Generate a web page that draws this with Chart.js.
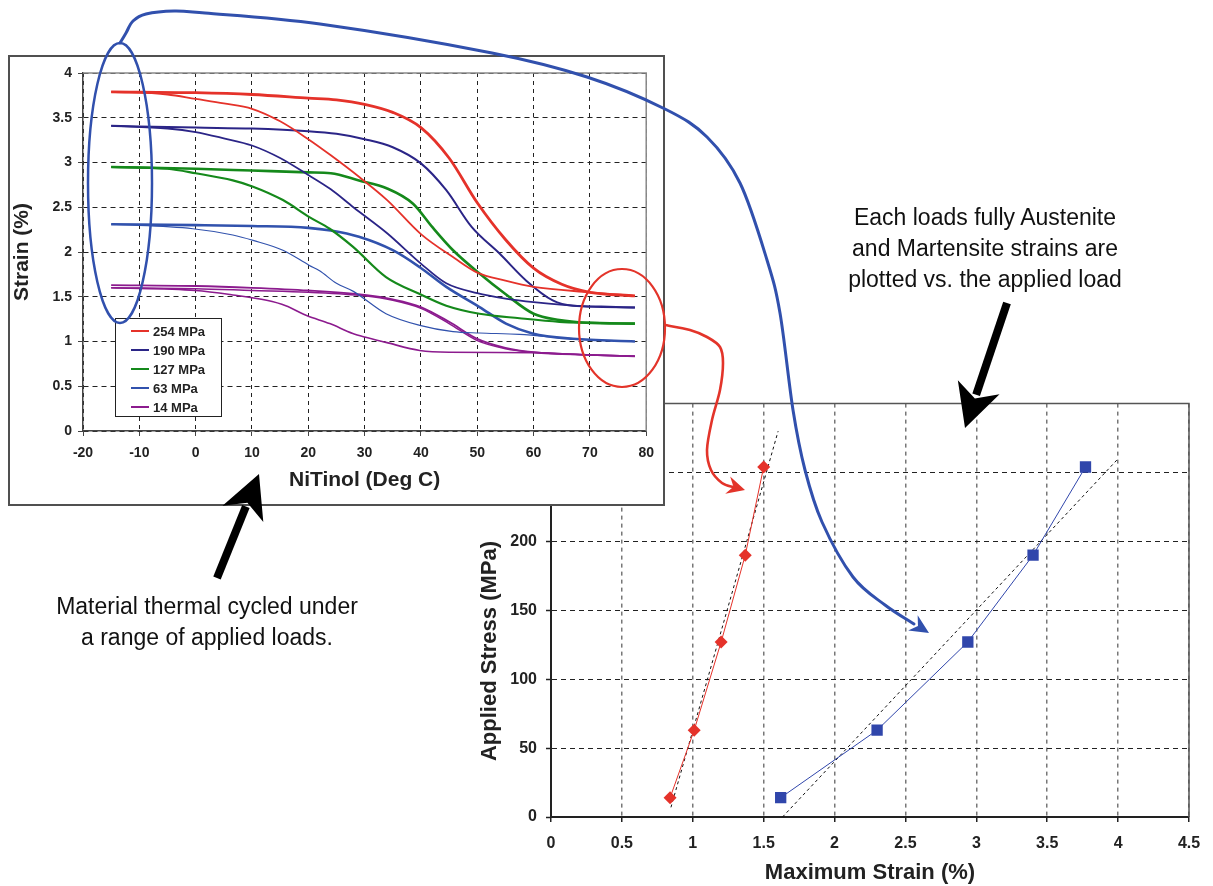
<!DOCTYPE html>
<html>
<head>
<meta charset="utf-8">
<script src="https://cdn.jsdelivr.net/npm/chart.js@4/dist/chart.umd.min.js"></script>
<style>
  html, body { margin: 0; padding: 0; background: #fff; }
  #page { position: relative; width: 1213px; height: 886px; overflow: hidden;
          font-family: "Liberation Sans", Arial, Helvetica, sans-serif; }
  #loadBox { position: absolute; left: 455px; top: 385px; width: 758px; height: 501px; }
  #insetBox { position: absolute; left: 8px; top: 55px; width: 657px; height: 451px;
              box-sizing: border-box; border: 2px solid #505050; background: #fff; }
  #overlay { position: absolute; left: 0; top: 0; pointer-events: none; }
  .note { position: absolute; font-size: 23px; color: #111; text-align: center;
          line-height: 31px; white-space: nowrap; transform: translateX(-50%); }
</style>
</head>
<body>
<div id="page">
  <div id="loadBox"><canvas id="loadChart" width="758" height="501"></canvas></div>
  <div id="insetBox"><canvas id="insetChart" width="653" height="447"></canvas></div>
  <canvas id="overlay" width="1213" height="886"></canvas>
  <div class="note" style="left:985px; top:202px;">Each loads fully Austenite<br>and Martensite strains are<br>plotted vs. the applied load</div>
  <div class="note" style="left:207px; top:591px;">Material thermal cycled under<br>a range of applied loads.</div>
</div>
<script>
// ---- inset: strain vs temperature, two branches per load ----
const loadLabels = ['254 MPa', '190 MPa', '127 MPa', '63 MPa', '14 MPa'];
const loadColors = ['#e5322a', '#2b2587', '#15891b', '#3152ad', '#8c1b8e'];

const temp254Hi   = [-15, 0, 10, 20, 25, 30, 35, 40, 45, 50, 55, 60, 65, 70, 78];
const strain254Hi = [3.79, 3.78, 3.76, 3.72, 3.70, 3.65, 3.56, 3.39, 3.05, 2.55, 2.14, 1.82, 1.64, 1.55, 1.51];
const temp254Lo   = [-15, -5, 0, 5, 10, 15, 20, 24, 29, 34, 40, 46, 50, 55, 60, 70, 78];
const strain254Lo = [3.79, 3.76, 3.71, 3.66, 3.60, 3.46, 3.26, 3.08, 2.84, 2.58, 2.20, 1.93, 1.77, 1.68, 1.61, 1.55, 1.51];

const temp190Hi   = [-15, 0, 10, 20, 25, 30, 35, 40, 44.5, 49, 54, 58.7, 63.4, 67, 72, 78];
const strain190Hi = [3.41, 3.39, 3.38, 3.35, 3.32, 3.26, 3.17, 2.99, 2.69, 2.28, 1.98, 1.68, 1.46, 1.40, 1.39, 1.38];
const temp190Lo   = [-15, -5, 0, 5, 10, 15, 20, 24, 28, 34, 40, 44.5, 50, 55, 60, 70, 78];
const strain190Lo = [3.41, 3.38, 3.34, 3.27, 3.19, 3.05, 2.86, 2.70, 2.50, 2.21, 1.87, 1.65, 1.54, 1.48, 1.44, 1.39, 1.38];

const temp127Hi   = [-15, 0, 10, 20, 24, 29, 34, 38.6, 42, 45.7, 50.4, 55, 60, 64.6, 69.3, 78];
const strain127Hi = [2.95, 2.93, 2.91, 2.89, 2.88, 2.80, 2.71, 2.54, 2.28, 2.02, 1.76, 1.53, 1.31, 1.24, 1.21, 1.20];
const temp127Lo   = [-15, -5, 0, 6.6, 10.2, 15.5, 20.2, 23.8, 27.9, 33.8, 39.8, 44.5, 50.4, 57.5, 64.6, 70, 78];
const strain127Lo = [2.95, 2.93, 2.88, 2.80, 2.73, 2.58, 2.39, 2.26, 2.06, 1.72, 1.53, 1.40, 1.31, 1.26, 1.22, 1.21, 1.20];

const temp63Hi    = [-15, 0, 10, 20, 24, 29, 35, 39.8, 44.5, 50.4, 55.1, 59.8, 67, 78];
const strain63Hi  = [2.31, 2.30, 2.29, 2.27, 2.24, 2.17, 2.02, 1.83, 1.61, 1.385, 1.20, 1.09, 1.03, 1.00];
const temp63Lo    = [-15, -0.5, 6.6, 10.2, 15.5, 20.2, 22, 25, 28, 33.8, 39.8, 45.7, 50.4, 57.5, 67, 78];
const strain63Lo  = [2.31, 2.26, 2.19, 2.13, 2.02, 1.85, 1.79, 1.65, 1.56, 1.31, 1.18, 1.11, 1.095, 1.08, 1.03, 1.00];

const temp14A     = [-15, 0, 10, 20, 30, 35, 40, 45, 50, 55, 60, 70, 78];
const strain14A   = [1.63, 1.62, 1.60, 1.57, 1.52, 1.47, 1.385, 1.22, 1.03, 0.93, 0.88, 0.85, 0.835];
const temp14B     = [-15, 0, 10, 20, 30, 35, 40, 45, 50, 55, 60, 70, 78];
const strain14B   = [1.60, 1.59, 1.57, 1.55, 1.51, 1.46, 1.37, 1.20, 1.01, 0.92, 0.88, 0.85, 0.835];
const temp14Lo    = [-15, 0, 6.6, 12.6, 16, 19.7, 23.8, 27.9, 30, 33.8, 39.8, 45, 60, 70, 78];
const strain14Lo  = [1.60, 1.57, 1.52, 1.46, 1.40, 1.29, 1.20, 1.09, 1.05, 0.99, 0.90, 0.88, 0.875, 0.85, 0.835];

// ---- main chart: applied stress vs maximum strain ----
const appliedStress    = [14, 63, 127, 190, 254];
const austeniteStrain  = [0.84, 1.01, 1.20, 1.37, 1.50];
const martensiteStrain = [1.62, 2.30, 2.94, 3.40, 3.77];
const austeniteFitStrain  = [0.846, 1.602];
const austeniteFitStress  = [7, 280];
const martensiteFitStrain = [1.633, 4.0];
const martensiteFitStress = [0, 260];

const FONT = '"Liberation Sans", Arial, Helvetica, sans-serif';

function xy(xs, ys) {
    return xs.map((x, i) => ({ x: x, y: ys[i] }));
}

// plain number labels: 1 not 1.0
function plainTick(value) {
    return String(Math.round(value * 100) / 100);
}

// solid top/right frame of the plot area
const plotFrame = {
    id: 'plotFrame',
    beforeDatasetsDraw(chart, args, opts) {
        const { ctx, chartArea: a } = chart;
        ctx.save();
        ctx.strokeStyle = opts.color;
        ctx.lineWidth = opts.width;
        ctx.beginPath();
        ctx.moveTo(a.left, a.top);
        ctx.lineTo(a.right, a.top);
        ctx.lineTo(a.right, a.bottom);
        ctx.stroke();
        ctx.restore();
    }
};

const insetLegend = {
    id: 'insetLegend',
    afterDatasetsDraw(chart) {
        const { ctx, chartArea } = chart;
        const x0 = chartArea.left + 32, y0 = chartArea.top + 245;
        ctx.save();
        ctx.fillStyle = '#fff';
        ctx.fillRect(x0, y0, 106, 98);
        ctx.strokeStyle = '#222';
        ctx.lineWidth = 1;
        ctx.strokeRect(x0 + 0.5, y0 + 0.5, 106, 98);
        ctx.font = 'bold 13px ' + FONT;
        ctx.textBaseline = 'middle';
        loadLabels.forEach((lab, i) => {
            const y = y0 + 13 + i * 19;
            ctx.strokeStyle = loadColors[i];
            ctx.lineWidth = 2;
            ctx.beginPath();
            ctx.moveTo(x0 + 16, y);
            ctx.lineTo(x0 + 34, y);
            ctx.stroke();
            ctx.fillStyle = '#222';
            ctx.fillText(lab, x0 + 38, y + 1);
        });
        ctx.restore();
    }
};

const stressTitle = {
    id: 'stressTitle',
    afterDraw(chart) {
        const { ctx, chartArea } = chart;
        ctx.save();
        ctx.translate(chartArea.left - 61, chartArea.bottom - 166);
        ctx.rotate(-Math.PI / 2);
        ctx.font = 'bold 22px ' + FONT;
        ctx.fillStyle = '#222';
        ctx.textAlign = 'center';
        ctx.textBaseline = 'middle';
        ctx.fillText('Applied Stress (MPa)', 0, 0);
        ctx.restore();
    }
};

const branches = [
    { c: 0, w: 2.8, t: temp254Hi, s: strain254Hi },
    { c: 0, w: 1.8, t: temp254Lo, s: strain254Lo },
    { c: 1, w: 2.0, t: temp190Hi, s: strain190Hi },
    { c: 1, w: 1.8, t: temp190Lo, s: strain190Lo },
    { c: 2, w: 2.6, t: temp127Hi, s: strain127Hi },
    { c: 2, w: 2.2, t: temp127Lo, s: strain127Lo },
    { c: 3, w: 2.6, t: temp63Hi, s: strain63Hi },
    { c: 3, w: 1.2, t: temp63Lo, s: strain63Lo },
    { c: 4, w: 1.8, t: temp14A, s: strain14A },
    { c: 4, w: 1.5, t: temp14B, s: strain14B },
    { c: 4, w: 1.6, t: temp14Lo, s: strain14Lo }
];

new Chart(document.getElementById('insetChart').getContext('2d'), {
    type: 'line',
    data: {
        datasets: branches.map(b => ({
            label: loadLabels[b.c],
            data: xy(b.t, b.s),
            borderColor: loadColors[b.c],
            borderWidth: b.w,
            pointRadius: 0,
            fill: false,
            cubicInterpolationMode: 'monotone'
        }))
    },
    options: {
        responsive: false,
        animation: false,
        layout: { padding: { left: 0, right: 16, top: 16, bottom: 0 } },
        plugins: {
            legend: { display: false },
            tooltip: { enabled: false },
            plotFrame: { color: '#8a8a8a', width: 1.5 }
        },
        scales: {
            x: {
                type: 'linear', min: -20, max: 80,
                ticks: { stepSize: 10, padding: 9, color: '#222', callback: plainTick,
                         font: { family: FONT, size: 14, weight: 'bold' } },
                grid: { color: '#222', lineWidth: 1, tickLength: 5, tickColor: '#444', tickBorderDash: [] },
                border: { display: true, color: '#444', width: 1.5, dash: [4, 4] },
                title: { display: true, text: 'NiTinol (Deg C)', color: '#222', padding: { top: 0, bottom: 11 },
                         font: { family: FONT, size: 21, weight: 'bold', lineHeight: 1.2 } },
                afterFit: s => { s.height = 73; }
            },
            y: {
                type: 'linear', min: 0, max: 4,
                ticks: { stepSize: 0.5, padding: 6, color: '#222', callback: plainTick,
                         font: { family: FONT, size: 14, weight: 'bold' } },
                grid: { color: '#222', lineWidth: 1, tickLength: 5, tickColor: '#444', tickBorderDash: [] },
                border: { display: true, color: '#444', width: 1.5, dash: [5, 4] },
                title: { display: true, text: 'Strain (%)', color: '#222', padding: { top: 0, bottom: 0 },
                         font: { family: FONT, size: 21, weight: 'bold', lineHeight: 1.2 } },
                afterFit: s => { s.width = 73; }
            }
        }
    },
    plugins: [plotFrame, insetLegend]
});

new Chart(document.getElementById('loadChart').getContext('2d'), {
    type: 'line',
    data: {
        datasets: [
            {
                label: 'Austenite',
                data: xy(austeniteStrain, appliedStress),
                borderColor: '#e5322a', backgroundColor: '#e5322a', borderWidth: 1,
                pointStyle: 'rectRot', pointRadius: 6.5, pointBorderWidth: 0, order: 1
            },
            {
                label: 'Martensite',
                data: xy(martensiteStrain, appliedStress),
                borderColor: '#3046ab', backgroundColor: '#3046ab', borderWidth: 1,
                pointStyle: 'rect', pointRadius: 8, pointBorderWidth: 0, order: 1
            },
            {
                label: 'Austenite fit',
                data: xy(austeniteFitStrain, austeniteFitStress),
                borderColor: '#111', borderWidth: 1, borderDash: [3, 3], pointRadius: 0, order: 2
            },
            {
                label: 'Martensite fit',
                data: xy(martensiteFitStrain, martensiteFitStress),
                borderColor: '#111', borderWidth: 1, borderDash: [3, 3], pointRadius: 0, order: 2
            }
        ]
    },
    options: {
        responsive: false,
        animation: false,
        layout: { padding: { left: 0, right: 24, top: 11, bottom: 0 } },
        plugins: {
            legend: { display: false },
            tooltip: { enabled: false },
            plotFrame: { color: '#555', width: 1.5 }
        },
        scales: {
            x: {
                type: 'linear', min: 0, max: 4.5,
                ticks: { stepSize: 0.5, padding: 12, color: '#222', callback: plainTick,
                         font: { family: FONT, size: 16, weight: 'bold' } },
                grid: { color: '#777', lineWidth: 1.5, tickLength: 5, tickColor: '#222', tickWidth: 1.5, tickBorderDash: [] },
                border: { display: true, color: '#222', width: 2, dash: [4, 4] },
                title: { display: true, text: 'Maximum Strain (%)', color: '#222', padding: { top: 0, bottom: 0 },
                         font: { family: FONT, size: 22, weight: 'bold', lineHeight: 1.2 } },
                afterFit: s => { s.height = 69; }
            },
            y: {
                type: 'linear', min: 0, max: 300,
                ticks: { stepSize: 50, padding: 9, color: '#222', callback: plainTick,
                         font: { family: FONT, size: 16, weight: 'bold' } },
                grid: { color: '#222', lineWidth: 1, tickLength: 5, tickColor: '#222', tickWidth: 1.5, tickBorderDash: [] },
                border: { display: true, color: '#222', width: 2, dash: [5, 4] },
                title: { display: false },
                afterFit: s => { s.width = 96; }
            }
        }
    },
    plugins: [plotFrame, stressTitle]
});

// ---- annotation layer: loops, curved arrows and pointer arrows ----
const blueLoopCurve = [[120, 43], [126, 33], [133, 21], [146, 14], [174, 11], [205, 13], [320, 24], [492, 53],
                       [587, 77], [665, 109], [707, 137], [740, 183], [767, 260], [780, 313], [793, 410],
                       [805, 470], [822, 522], [853, 577], [885, 605], [914, 624]];
const redLoopCurve = [[665, 325], [690, 330], [707, 337], [720, 347], [723, 363], [720, 390], [712, 420],
                      [707, 450], [711, 470], [722, 483], [733, 487]];

function smoothPath(ctx, pts) {
    ctx.moveTo(pts[0][0], pts[0][1]);
    for (let i = 0; i < pts.length - 1; i++) {
        const p0 = pts[i - 1] || pts[i], p1 = pts[i], p2 = pts[i + 1], p3 = pts[i + 2] || p2;
        ctx.bezierCurveTo(p1[0] + (p2[0] - p0[0]) / 6, p1[1] + (p2[1] - p0[1]) / 6,
                          p2[0] - (p3[0] - p1[0]) / 6, p2[1] - (p3[1] - p1[1]) / 6, p2[0], p2[1]);
    }
}

function arrowHead(ctx, tip, angle, len, half, notch) {
    const c = Math.cos(angle), s = Math.sin(angle);
    const pt = (a, b) => [tip[0] - a * c - b * s, tip[1] - a * s + b * c];
    const w1 = pt(len, half), w2 = pt(len, -half), n = pt(len - notch, 0);
    ctx.beginPath();
    ctx.moveTo(tip[0], tip[1]);
    ctx.lineTo(w1[0], w1[1]);
    ctx.lineTo(n[0], n[1]);
    ctx.lineTo(w2[0], w2[1]);
    ctx.closePath();
    ctx.fill();
    return n;
}

function blockArrow(ctx, tail, tip) {
    const ang = Math.atan2(tip[1] - tail[1], tip[0] - tail[0]);
    const n = arrowHead(ctx, tip, ang, 43, 22, 12);
    ctx.lineWidth = 8;
    ctx.beginPath();
    ctx.moveTo(tail[0], tail[1]);
    ctx.lineTo(n[0] - 4 * Math.cos(ang), n[1] - 4 * Math.sin(ang));
    ctx.stroke();
}

const ov = document.getElementById('overlay').getContext('2d');
ov.lineCap = 'round';

ov.strokeStyle = '#3150ad';
ov.fillStyle = '#3150ad';
ov.lineWidth = 2.5;
ov.beginPath();
ov.ellipse(120, 183, 32, 140, 0, 0, Math.PI * 2);
ov.stroke();
ov.lineWidth = 3;
ov.beginPath();
smoothPath(ov, blueLoopCurve);
ov.stroke();
arrowHead(ov, [929, 633], Math.atan2(10, 16), 19, 9, 6);

ov.strokeStyle = '#e3342a';
ov.fillStyle = '#e3342a';
ov.lineWidth = 2.2;
ov.beginPath();
ov.ellipse(622, 328, 43, 59, 0, 0, Math.PI * 2);
ov.stroke();
ov.lineWidth = 2.6;
ov.beginPath();
smoothPath(ov, redLoopCurve);
ov.stroke();
arrowHead(ov, [745, 490], Math.atan2(4, 14), 18, 9, 6);

ov.strokeStyle = '#000';
ov.fillStyle = '#000';
ov.lineCap = 'butt';
blockArrow(ov, [217, 578], [259, 474]);
blockArrow(ov, [1007, 303], [965, 428]);
</script>
</body>
</html>
